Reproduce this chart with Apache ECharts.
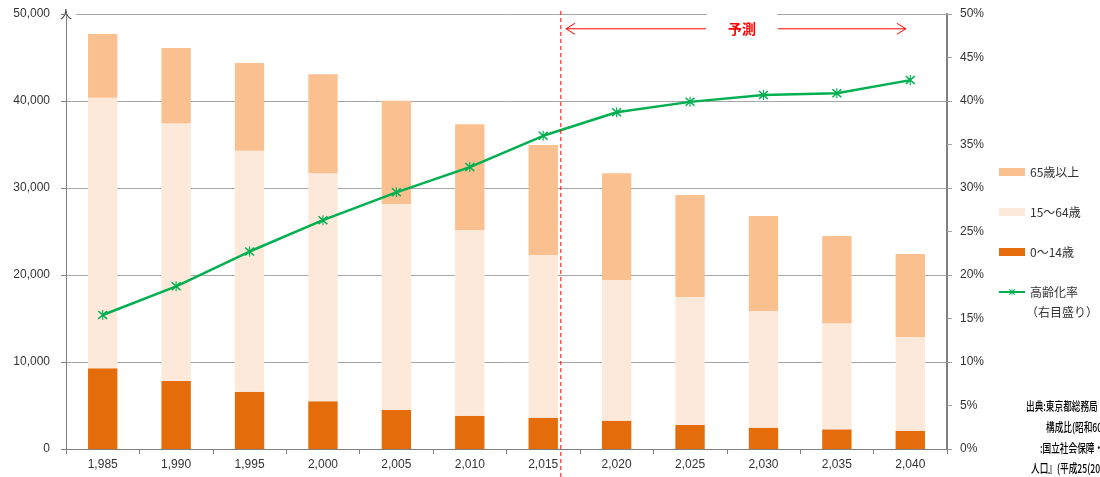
<!DOCTYPE html>
<html>
<head>
<meta charset="utf-8">
<script src="https://cdn.jsdelivr.net/npm/echarts@6/dist/echarts.min.js"></script>
<style>
html,body{margin:0;padding:0;background:#fff;}
#c{width:1100px;height:477px;}
</style>
</head>
<body>
<div id="c"></div>
<script>
// ---- data ----
const years = [1985, 1990, 1995, 2000, 2005, 2010, 2015, 2020, 2025, 2030, 2035, 2040];
const age0to14 = [9280, 7820, 6590, 5480, 4480, 3830, 3600, 3260, 2760, 2450, 2260, 2100];
const age15to64 = [31100, 29620, 27700, 26210, 23680, 21340, 18700, 16170, 14710, 13410, 12180, 10770];
const age65plus = [7320, 8650, 10080, 11380, 11870, 12150, 12640, 12260, 11730, 10920, 10040, 9540];
const agingRate = [15.4, 18.7, 22.7, 26.3, 29.5, 32.4, 36.0, 38.7, 39.9, 40.7, 40.9, 42.4];
const seriesNames = ['0～14歳', '15～64歳', '65歳以上', '高齢化率'];
const legendNote = '（右目盛り）';
const forecastLabel = '予測';
const sourceLines = [
  '出典:東京都総務局「住民基本台帳による東京都の世帯と人口」',
  '構成比(昭和60年～平成27年)',
  ':国立社会保障・人口問題研究所『日本の地域別将来推計',
  '人口』(平成25(2013)年3月推計)'
];

const starPath = 'path://M9,0 L11,0 L11,20 L9,20 Z M1,3 L3,1 L19,17 L17,19 Z M17,1 L19,3 L3,19 L1,17 Z';
const font = '"Liberation Sans", "Noto Sans CJK JP", sans-serif';
const jp = '"Noto Sans CJK JP", sans-serif';

const chart = echarts.init(document.getElementById('c'));
chart.setOption({
  animation: false,
  backgroundColor: '#ffffff',
  textStyle: { fontFamily: font },
  grid: { left: 66, right: 153, top: 14, bottom: 28, containLabel: false },
  legend: {
    orient: 'vertical',
    left: 993,
    top: 161,
    itemWidth: 26,
    itemHeight: 8,
    itemGap: 28,
    data: [
      { name: seriesNames[2], icon: 'rect' },
      { name: seriesNames[1], icon: 'rect' },
      { name: seriesNames[0], icon: 'rect' },
      { name: seriesNames[3] }
    ],
    textStyle: { fontFamily: jp, fontSize: 12, color: '#333' }
  },
  xAxis: {
    type: 'category',
    data: years,
    boundaryGap: true,
    axisLine: { lineStyle: { color: '#808080', width: 1 } },
    axisTick: { show: true, alignWithLabel: false, length: 5, lineStyle: { color: '#808080' } },
    axisLabel: {
      margin: 10, fontSize: 12, color: '#333',
      formatter: v => Number(v).toLocaleString('en-US')
    }
  },
  yAxis: [
    {
      type: 'value', min: 0, max: 50000, interval: 10000,
      name: '人', nameLocation: 'end', nameGap: 0,
      nameTextStyle: { fontFamily: jp, fontSize: 12, color: '#333', verticalAlign: 'middle', align: 'center', backgroundColor: '#fff', padding: [2, 4] },
      axisLine: { show: true, lineStyle: { color: '#808080', width: 1 } },
      axisTick: { show: true, length: 5, lineStyle: { color: '#808080' } },
      axisLabel: { margin: 16, fontSize: 12, color: '#333', formatter: v => v.toLocaleString('en-US') },
      splitLine: { show: true, lineStyle: { color: '#A6A6A6', width: 1 } }
    },
    {
      type: 'value', min: 0, max: 50, interval: 5, position: 'right',
      axisLine: { show: true, lineStyle: { color: '#808080', width: 2 } },
      axisTick: { show: true, length: 5, lineStyle: { color: '#A0A0A0' } },
      axisLabel: { margin: 13, fontSize: 12, color: '#333', formatter: '{value}%' },
      splitLine: { show: false }
    }
  ],
  series: [
    { name: seriesNames[0], type: 'bar', stack: 'pop', barWidth: '40%', data: age0to14,
      itemStyle: { color: '#E46C0A' } },
    { name: seriesNames[1], type: 'bar', stack: 'pop', barWidth: '40%', data: age15to64,
      itemStyle: { color: '#FDE9D9' } },
    { name: seriesNames[2], type: 'bar', stack: 'pop', barWidth: '40%', data: age65plus,
      itemStyle: { color: '#FAC090' } },
    { name: seriesNames[3], type: 'line', yAxisIndex: 1, data: agingRate,
      symbol: starPath, symbolSize: 10, showAllSymbol: true,
      lineStyle: { color: '#00B050', width: 2.5 },
      itemStyle: { color: '#00B050' }, z: 5 }
  ]
});

// ---- annotations positioned through the axes ----
const p0 = chart.convertToPixel({ xAxisIndex: 0 }, 0);
const p1 = chart.convertToPixel({ xAxisIndex: 0 }, 1);
const step = p1 - p0;
const xAt = f => p0 + f * step;
const yTop = chart.convertToPixel({ yAxisIndex: 0 }, 50000);
const yArrow = chart.convertToPixel({ yAxisIndex: 0 }, 48300);
const xDash = xAt(6.24);
const xA1 = xAt(6.31), xA2 = xAt(10.94);
const xMid = (xA1 + xA2) / 2 + 6;
const red = '#FF0000';

const g = [
  { type: 'line', shape: { x1: xDash, y1: yTop - 3, x2: xDash, y2: 477 },
    style: { stroke: red, lineWidth: 1, lineDash: [4, 3] }, z: 10 },
  { type: 'rect', shape: { x: xMid - 35, y: yTop - 4, width: 70, height: 32 },
    style: { fill: '#fff' }, z: 10 },
  { type: 'line', shape: { x1: xA1, y1: yArrow, x2: xMid - 36, y2: yArrow },
    style: { stroke: red, lineWidth: 1 }, z: 10 },
  { type: 'line', shape: { x1: xMid + 36, y1: yArrow, x2: xA2, y2: yArrow },
    style: { stroke: red, lineWidth: 1 }, z: 10 },
  { type: 'polyline', shape: { points: [[xA1 + 9, yArrow - 5.5], [xA1, yArrow], [xA1 + 9, yArrow + 5.5]] },
    style: { stroke: red, lineWidth: 1, fill: null }, z: 10 },
  { type: 'polyline', shape: { points: [[xA2 - 9, yArrow - 5.5], [xA2, yArrow], [xA2 - 9, yArrow + 5.5]] },
    style: { stroke: red, lineWidth: 1, fill: null }, z: 10 },
  { type: 'text', x: xMid, y: yArrow, z: 11,
    style: { text: forecastLabel, fill: red, font: 'bold 14px ' + jp, align: 'center', verticalAlign: 'middle' } },
  { type: 'text', x: 1026, y: 312, z: 11,
    style: { text: legendNote, fill: '#333', font: '12px ' + jp, align: 'left', verticalAlign: 'middle' } }
];
const srcX = [1026, 1046, 1040, 1031];
const srcY = [406, 427, 448, 468];
sourceLines.forEach((t, i) => {
  g.push({ type: 'text', x: srcX[i], y: srcY[i], scaleX: 0.72, z: 11,
    style: { text: t, fill: '#000', font: '500 12px ' + jp, align: 'left', verticalAlign: 'middle' } });
});
chart.setOption({ graphic: g });
</script>
</body>
</html>
